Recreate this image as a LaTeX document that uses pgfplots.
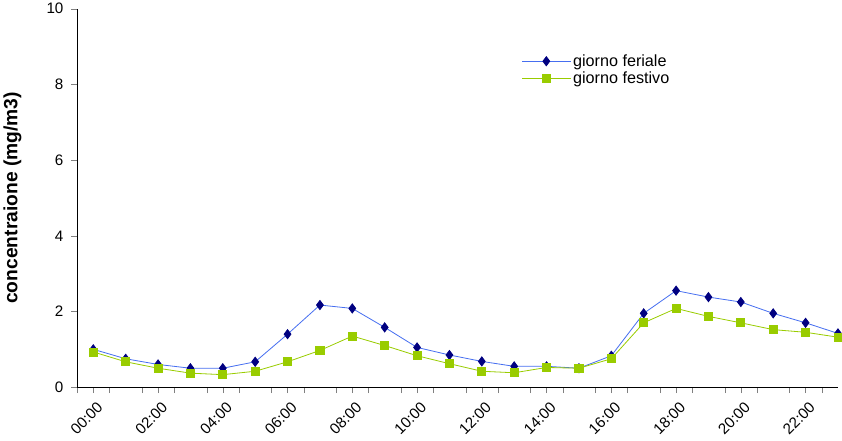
\documentclass[border=0pt]{standalone}
\usepackage{pgfplots}
\pgfplotsset{compat=1.18}
\usepackage{fontspec}
\setmainfont{Liberation Sans}
\definecolor{dblue}{RGB}{0,0,128}
\definecolor{lblue}{RGB}{70,110,240}
\definecolor{lgreen}{RGB}{153,204,0}
\begin{document}
\begin{tikzpicture}
\begin{axis}[
  scale only axis, width=752pt, height=374pt,
  xmin=-0.5, xmax=23.0, ymin=0, ymax=10,
  axis lines=left, axis line style={-},
  xtick={0,2,...,22}, xticklabels={00:00,02:00,04:00,06:00,08:00,10:00,12:00,14:00,16:00,18:00,20:00,22:00},
  minor xtick={-0.5,0.5,...,22.5},
  xticklabel style={rotate=45, anchor=north east, font=\fontsize{15}{15}\selectfont, yshift=-4pt},
  ytick={0,2,...,10},
  yticklabel style={font=\fontsize{15}{15}\selectfont, xshift=-4pt},
  /pgf/number format/assume math mode=true,
  tick align=outside, major tick length=6pt, minor tick length=6pt,
  ylabel={\bfseries concentraione (mg/m3)},
  ylabel style={font=\fontsize{19}{19}\selectfont, yshift=18pt},
  legend style={draw=none, at={(0.58,0.89)}, anchor=north west, font=\fontsize{16}{24}\selectfont, fill=none},
  legend cell align=left,
  legend image code/.code={\draw[#1, thick] (0pt,0pt) -- (48pt,0pt); \draw[#1, only marks] plot coordinates {(24pt,0pt)};},
  clip=false,
]
\addplot[lblue, thick, mark=diamond*, mark options={draw=dblue, fill=dblue}, mark size=4.5pt] coordinates {
(0,1.0)(1,0.75)(2,0.6)(3,0.5)(4,0.5)(5,0.67)(6,1.4)(7,2.17)(8,2.08)(9,1.58)(10,1.05)(11,0.85)(12,0.68)(13,0.55)(14,0.55)(15,0.5)(16,0.83)(17,1.95)(18,2.55)(19,2.38)(20,2.25)(21,1.95)(22,1.7)(23,1.42)};
\addlegendentry{giorno feriale}
\addplot[lgreen, thick, mark=square*, mark options={fill=lgreen}, mark size=4pt] coordinates {
(0,0.93)(1,0.67)(2,0.5)(3,0.37)(4,0.33)(5,0.42)(6,0.67)(7,0.97)(8,1.35)(9,1.1)(10,0.83)(11,0.62)(12,0.42)(13,0.38)(14,0.52)(15,0.5)(16,0.75)(17,1.7)(18,2.08)(19,1.87)(20,1.7)(21,1.52)(22,1.45)(23,1.32)};
\addlegendentry{giorno festivo}
\end{axis}
\end{tikzpicture}
\end{document}
